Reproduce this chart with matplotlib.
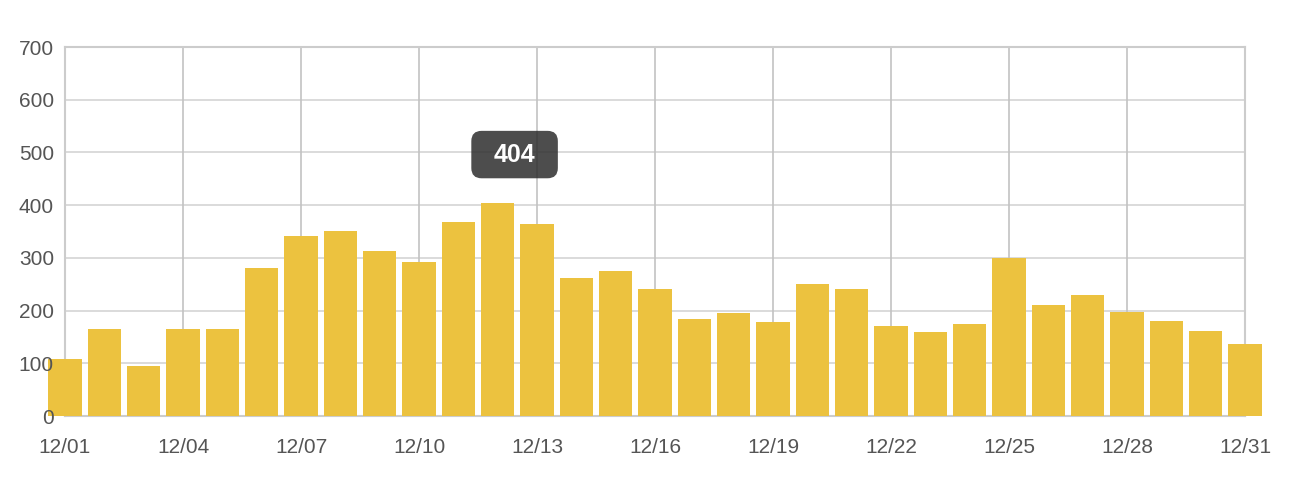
import numpy as np
import matplotlib.pyplot as plt
from matplotlib.patches import FancyBboxPatch

days = ['12/%02d' % d for d in range(1, 32)]
values = [108, 165, 95, 165, 165, 281, 342, 351, 313, 292, 368, 404, 364, 262,
          275, 241, 184, 196, 178, 250, 241, 171, 159, 175, 300, 211, 230, 197,
          180, 161, 137]
tooltip_text = '404'

bar_color = '#ECC23F'
text_color = '#555555'
plt.rcParams['font.family'] = ['Liberation Sans', 'DejaVu Sans']

fig = plt.figure(figsize=(13, 4.8), dpi=100)
ax = fig.add_axes([0.05, 0.1333, 0.9077, 0.7687])

x = np.arange(len(values))
ax.bar(x, values, width=0.84, color=bar_color, zorder=3, clip_on=False)

ax.set_xlim(0, len(values) - 1)
ax.set_ylim(0, 700)
ax.set_yticks(np.arange(0, 701, 100))
ax.set_xticks(x[::3])
ax.set_xticklabels(days[::3])

# grid under the bars, tick labels above them
for yv in ax.get_yticks():
    ax.axhline(yv, color='#d4d4d4', linewidth=1.2, zorder=1)
for xv in ax.get_xticks():
    ax.axvline(xv, color='#c2c2c2', linewidth=1.2, zorder=1)
ax.xaxis.set_zorder(5)
ax.yaxis.set_zorder(5)
for s in ax.spines.values():
    s.set_color('#cccccc')
    s.set_linewidth(1.5)
    s.set_zorder(2)
ax.tick_params(length=0, labelsize=15, colors=text_color, pad=8)
ax.tick_params(axis='x', pad=16)

# tooltip
tip_x, tip_y = 11.43, 496
half_w, half_h = 1.1, 45
px_x = ax.bbox.width / (len(values) - 1)
px_y = ax.bbox.height / 700
box = FancyBboxPatch((tip_x - half_w, tip_y - half_h), 2 * half_w, 2 * half_h,
                     boxstyle='round,pad=0,rounding_size=0.26',
                     mutation_aspect=px_x / px_y,
                     facecolor='#2e2e2e', edgecolor='none', alpha=0.85, zorder=6)
ax.add_patch(box)
ax.text(tip_x, tip_y, tooltip_text, ha='center', va='center',
        color='white', fontsize=18, fontweight='bold', zorder=7)

plt.savefig('out.png')
